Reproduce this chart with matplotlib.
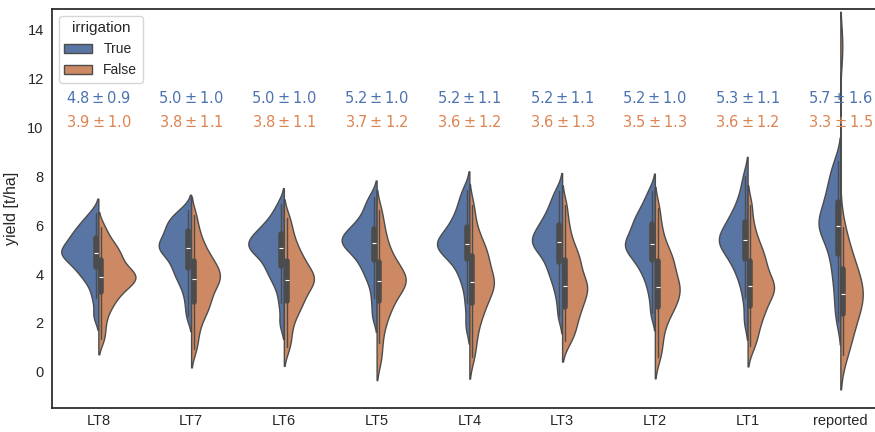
import numpy as np
import pandas as pd
import matplotlib
matplotlib.use('Agg')
import matplotlib.pyplot as plt
import seaborn as sns

## yield samples per lead time (quartiles, whiskers, tails)
categories = ['LT8', 'LT7', 'LT6', 'LT5', 'LT4', 'LT3', 'LT2', 'LT1', 'reported']

irrigated = {
    'LT8': [2.3, 3.0, 3.5, 3.8, 4.0, 4.2, 4.3, 4.45, 4.6, 4.7, 4.8, 4.85, 4.9, 5.0, 5.1, 5.2, 5.35, 5.45, 5.55, 5.7, 5.85, 6.0, 6.2, 6.5],
    'LT7': [2.3, 2.9, 3.4, 3.7, 3.95, 4.15, 4.3, 4.5, 4.7, 4.85, 4.95, 5.05, 5.1, 5.2, 5.3, 5.4, 5.55, 5.7, 5.85, 5.95, 6.1, 6.25, 6.4, 6.6],
    'LT6': [2.0, 2.8, 3.4, 3.75, 4.0, 4.2, 4.35, 4.55, 4.75, 4.9, 5.0, 5.05, 5.1, 5.2, 5.3, 5.4, 5.5, 5.6, 5.7, 5.85, 6.0, 6.2, 6.45, 6.85],
    'LT5': [2.3, 3.0, 3.6, 3.95, 4.2, 4.45, 4.6, 4.8, 4.95, 5.1, 5.2, 5.25, 5.3, 5.4, 5.5, 5.6, 5.7, 5.8, 5.95, 6.1, 6.3, 6.55, 6.85, 7.15],
    'LT4': [1.9, 2.8, 3.5, 3.9, 4.2, 4.5, 4.65, 4.8, 4.95, 5.05, 5.15, 5.2, 5.25, 5.35, 5.45, 5.6, 5.75, 5.9, 6.05, 6.25, 6.5, 6.75, 7.1, 7.45],
    'LT3': [2.3, 3.0, 3.5, 3.85, 4.1, 4.35, 4.55, 4.75, 4.95, 5.1, 5.2, 5.27, 5.32, 5.45, 5.55, 5.7, 5.85, 5.97, 6.1, 6.3, 6.5, 6.75, 7.05, 7.4],
    'LT2': [2.4, 3.1, 3.6, 3.95, 4.2, 4.45, 4.6, 4.75, 4.9, 5.05, 5.15, 5.2, 5.25, 5.4, 5.55, 5.7, 5.85, 6.0, 6.15, 6.3, 6.5, 6.7, 7.0, 7.4],
    'LT1': [2.1, 3.0, 3.6, 3.95, 4.25, 4.5, 4.65, 4.85, 5.0, 5.15, 5.28, 5.34, 5.4, 5.5, 5.65, 5.8, 5.95, 6.1, 6.25, 6.45, 6.7, 7.0, 7.4, 8.0],
    'reported': [2.1, 2.7, 3.3, 3.8, 4.2, 4.6, 4.9, 5.2, 5.45, 5.65, 5.85, 5.95, 6.0, 6.15, 6.3, 6.5, 6.7, 6.9, 7.1, 7.35, 7.6, 7.9, 8.25, 8.6],
}
rainfed = {
    'LT8': [1.35, 1.9, 2.4, 2.7, 2.95, 3.15, 3.3, 3.45, 3.6, 3.7, 3.8, 3.85, 3.9, 4.0, 4.1, 4.2, 4.35, 4.55, 4.7, 4.85, 5.0, 5.2, 5.45, 5.9],
    'LT7': [0.95, 1.5, 2.0, 2.3, 2.55, 2.75, 2.9, 3.1, 3.3, 3.5, 3.65, 3.75, 3.85, 3.95, 4.05, 4.2, 4.35, 4.5, 4.65, 4.85, 5.1, 5.4, 5.8, 6.4],
    'LT6': [1.0, 1.5, 2.0, 2.35, 2.6, 2.8, 2.95, 3.15, 3.35, 3.5, 3.65, 3.72, 3.8, 3.9, 4.0, 4.15, 4.3, 4.5, 4.65, 4.85, 5.1, 5.4, 5.8, 6.3],
    'LT5': [0.5, 1.2, 1.8, 2.2, 2.5, 2.75, 2.95, 3.15, 3.35, 3.5, 3.62, 3.68, 3.75, 3.85, 4.0, 4.15, 4.3, 4.45, 4.65, 4.9, 5.2, 5.55, 6.0, 6.6],
    'LT4': [0.6, 1.2, 1.7, 2.1, 2.4, 2.65, 2.85, 3.05, 3.25, 3.45, 3.58, 3.65, 3.72, 3.9, 4.1, 4.3, 4.5, 4.7, 4.85, 5.05, 5.3, 5.6, 6.1, 6.8],
    'LT3': [1.25, 1.5, 1.8, 2.05, 2.3, 2.55, 2.7, 2.85, 3.05, 3.25, 3.4, 3.48, 3.55, 3.7, 3.9, 4.1, 4.35, 4.55, 4.7, 4.9, 5.2, 5.6, 6.1, 6.8],
    'LT2': [0.6, 1.1, 1.6, 2.0, 2.3, 2.55, 2.7, 2.85, 3.0, 3.2, 3.38, 3.45, 3.52, 3.7, 3.9, 4.1, 4.3, 4.5, 4.65, 4.85, 5.1, 5.5, 6.0, 6.7],
    'LT1': [1.05, 1.4, 1.8, 2.1, 2.35, 2.55, 2.75, 2.95, 3.15, 3.3, 3.42, 3.47, 3.55, 3.7, 3.9, 4.1, 4.3, 4.5, 4.7, 4.9, 5.15, 5.5, 6.0, 6.8],
    'reported': [0.7, 1.0, 1.3, 1.6, 1.9, 2.2, 2.4, 2.6, 2.8, 2.95, 3.1, 3.15, 3.2, 3.35, 3.55, 3.75, 3.95, 4.15, 4.35, 4.6, 4.9, 5.3, 5.9, 13.3],
}

# mean +- std labels as printed on the chart
irr_mean = [4.8, 5.0, 5.0, 5.2, 5.2, 5.2, 5.2, 5.3, 5.7]
irr_std = [0.9, 1.0, 1.0, 1.0, 1.1, 1.1, 1.0, 1.1, 1.6]
rf_mean = [3.9, 3.8, 3.8, 3.7, 3.6, 3.6, 3.5, 3.6, 3.3]
rf_std = [1.0, 1.1, 1.1, 1.2, 1.2, 1.3, 1.3, 1.2, 1.5]


def main():
    rows = []
    for cat in categories:
        for v in irrigated[cat]:
            rows.append((cat, True, v))
        for v in rainfed[cat]:
            rows.append((cat, False, v))
    df = pd.DataFrame(rows, columns=['lead', 'irrigation', 'yield'])

    sns.set_theme(style='white', font='Liberation Sans')
    palette = sns.color_palette('deep')

    fig = plt.figure(figsize=(8.75, 4.32), dpi=100)
    ax = fig.add_axes([0.0594, 0.0556, 0.954, 0.9236])

    sns.violinplot(data=df, x='lead', y='yield', hue='irrigation', hue_order=[True, False],
                   order=categories, split=True, inner='box', bw_adjust=0.6, cut=1.8,
                   linewidth=1.0, inner_kws=dict(box_width=4, whis_width=1),
                   palette=[palette[0], palette[1]], ax=ax)

    for i in range(len(categories)):
        ax.text(i, 11, r'$%.1f \pm %.1f$' % (irr_mean[i], irr_std[i]), color=palette[0],
                ha='center', fontsize=10.5)
        ax.text(i, 10, r'$%.1f \pm %.1f$' % (rf_mean[i], rf_std[i]), color=palette[1],
                ha='center', fontsize=10.5)

    ax.set_ylim(-1.47, 14.82)
    ax.set_xlim(-0.5, len(categories) - 0.5)
    ax.set_xlabel('')
    ax.set_ylabel('yield [t/ha]', fontsize=11.5, labelpad=6)
    ax.tick_params(axis='x', labelsize=10.5, length=0, pad=4)
    ax.tick_params(axis='y', labelsize=10.5, length=0, pad=6)
    ax.legend(title='irrigation', loc='upper left', fontsize=10, title_fontsize=11)

    fig.savefig('out.png', dpi=100)

main()
